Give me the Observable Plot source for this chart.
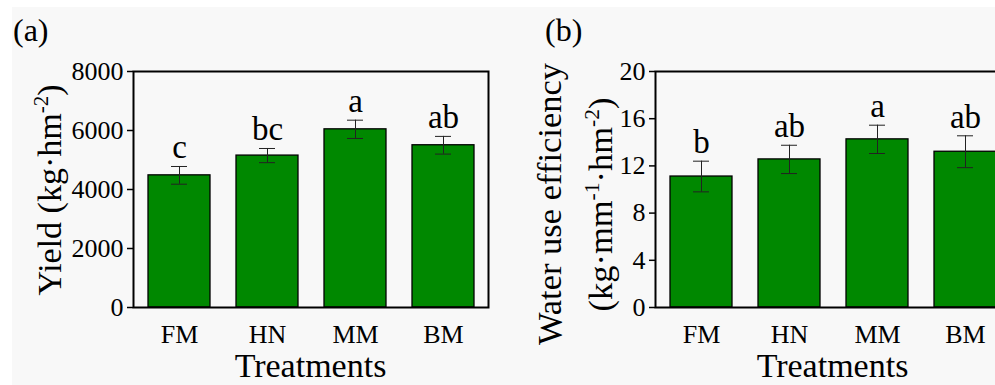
<!DOCTYPE html>
<html><head><meta charset="utf-8">
<script src="https://cdn.jsdelivr.net/npm/d3@7"></script>
<script src="https://cdn.jsdelivr.net/npm/@observablehq/plot@0.6"></script>
<style>
html,body{margin:0;padding:0;background:#fff;overflow:hidden;}
#wrap{position:relative;width:995px;height:385px;overflow:hidden;background:#fff;}
#bg{position:absolute;left:12px;top:7px;right:0;bottom:0;background:#f8f8f8;}
.panel{position:absolute;top:0;}
</style></head><body>
<div id="wrap"><div id="bg"></div><div id="pa" class="panel" style="left:0;width:500px"></div><div id="pb" class="panel" style="left:500px;width:520px"></div></div>
<script>
const treatments = ["FM", "HN", "MM", "BM"];
const yieldMean = [4480, 5150, 6040, 5500];
const yieldErr = [300, 240, 310, 300];
const yieldLetters = ["c", "bc", "a", "ab"];
const wueMean = [11.1, 12.55, 14.25, 13.2];
const wueErr = [1.3, 1.2, 1.2, 1.35];
const wueLetters = ["b", "ab", "a", "ab"];
const yieldTicks = [0, 2000, 4000, 6000, 8000];
const wueTicks = [0, 4, 8, 12, 16, 20];

const FONT = "Liberation Serif, Times New Roman, serif";

function panel({means, errs, letters, ticks, width, marginLeft, marginRight}) {
  const data = treatments.map((t, i) => ({t, v: means[i], e: errs[i], l: letters[i]}));
  return Plot.plot({
    width, height: 385,
    marginLeft, marginRight, marginTop: 71, marginBottom: 78,
    style: {background: "transparent", fontFamily: FONT, fontSize: "26px", color: "black", maxWidth: "none", overflow: "visible"},
    x: {domain: treatments, paddingInner: 0.3, paddingOuter: 0.16, tickSize: 0, tickPadding: 17, label: null},
    y: {domain: [ticks[0], ticks[ticks.length - 1]], ticks, tickSize: 6, tickPadding: 4, tickFormat: d => String(d), label: null},
    marks: [
      Plot.barY(data, {x: "t", y: "v", fill: "#008800", stroke: "black", strokeWidth: 1.3}),
      Plot.ruleX(data, {x: "t", y1: d => d.v - d.e, y2: d => d.v + d.e, stroke: "#222", strokeWidth: 1}),
      Plot.tickY(data, {x: "t", y: d => d.v + d.e, insetLeft: 23, insetRight: 23, stroke: "#222", strokeWidth: 1}),
      Plot.tickY(data, {x: "t", y: d => d.v - d.e, insetLeft: 23, insetRight: 23, stroke: "#222", strokeWidth: 1}),
      Plot.text(data, {x: "t", y: d => d.v + d.e, text: "l", lineAnchor: "bottom", dy: -8, fontSize: 33, fill: "black"}),
      Plot.frame({stroke: "black", strokeWidth: 2})
    ]
  });
}

function addText(svg, x, y, parts, size, rotate, anchor, supSize) {
  const t = d3.select(svg).append("text")
    .attr("transform", `translate(${x},${y})` + (rotate ? " rotate(-90)" : ""))
    .attr("text-anchor", anchor || "middle")
    .attr("font-family", FONT)
    .attr("font-size", size)
    .attr("fill", "black");
  let shift = 0;
  for (const p of parts) {
    const sup = typeof p === "object";
    const s = sup ? p.sup : p;
    const target = sup ? -13 : 0;
    const ts = t.append("tspan").text(s);
    if (target !== shift) { ts.attr("dy", target - shift); shift = target; }
    if (sup) ts.attr("font-size", supSize || 21);
  }
  return t;
}

function styleAxes(svg) {
  const s = d3.select(svg);
  s.selectAll('[aria-label="y-axis"], [aria-label="y-axis tick"]').attr("stroke-width", 1.5);
  s.selectAll('[aria-label="y-axis"] text, [aria-label="y-axis tick label"], [aria-label="y-axis tick label"] text, [aria-label="x-axis"] text, [aria-label="x-axis tick label"], [aria-label="x-axis tick label"] text').attr("font-size", 26);
}

const a = panel({means: yieldMean, errs: yieldErr, letters: yieldLetters, ticks: yieldTicks, width: 500, marginLeft: 133, marginRight: 12});
styleAxes(a);
addText(a, 13, 41, ["(a)"], 32, false, "start");
addText(a, 61, 190, ["Yield (kg·hm", {sup: "-2"}, ")"], 34, true, "middle", 21);
addText(a, 310.5, 377, ["Treatments"], 34, false);
document.getElementById("pa").appendChild(a);

const b = panel({means: wueMean, errs: wueErr, letters: wueLetters, ticks: wueTicks, width: 520, marginLeft: 155, marginRight: 10});
styleAxes(b);
addText(b, 45, 41, ["(b)"], 32, false, "start");
addText(b, 61, 204, ["Water use efficiency"], 34.5, true);
addText(b, 112, 204.5, ["(kg·mm", {sup: "-1"}, "·hm", {sup: "-2"}, ")"], 34.5, true, "middle", 21.5);
addText(b, 332.5, 377, ["Treatments"], 34, false);
document.getElementById("pb").appendChild(b);
</script>
</body></html>
